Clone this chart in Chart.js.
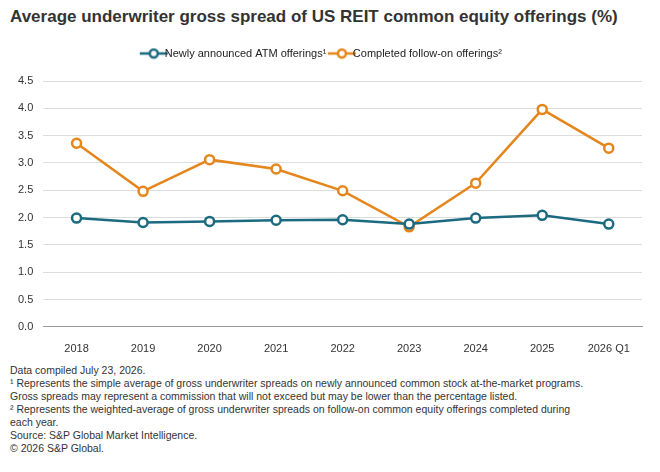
<!DOCTYPE html>
<html><head><meta charset="utf-8">
<script src="https://cdn.jsdelivr.net/npm/chart.js@4/dist/chart.umd.min.js"></script>
<style>
body{margin:0;width:660px;height:472px;background:#fff;font-family:"Liberation Sans",Arial,sans-serif;color:#222;}
#title{position:absolute;left:10px;top:7px;font-size:17px;font-weight:bold;color:#333;}
#wrap{position:absolute;left:8px;top:38px;width:644px;height:326px;}
#notes{position:absolute;left:10px;top:364px;font-size:10.5px;line-height:13px;color:#333;width:640px;}
</style></head><body>
<div id="title">Average underwriter gross spread of US REIT common equity offerings (%)</div>
<div id="wrap"><canvas id="c"></canvas></div>
<div id="notes">Data compiled July 23, 2026.<br>
¹ Represents the simple average of gross underwriter spreads on newly announced common stock at-the-market programs.<br>Gross spreads may represent a commission that will not exceed but may be lower than the percentage listed.<br>
² Represents the weighted-average of gross underwriter spreads on follow-on common equity offerings completed during<br>each year.<br>
Source: S&amp;P Global Market Intelligence.<br>
© 2026 S&amp;P Global.</div>
<script>
const categories=["2018","2019","2020","2021","2022","2023","2024","2025","2026 Q1"];
const atmValues=[1.99,1.91,1.93,1.95,1.96,1.88,1.99,2.04,1.88];
const followOnValues=[3.36,2.48,3.06,2.89,2.49,1.83,2.63,3.98,3.27];
const yTicks=[0,0.5,1,1.5,2,2.5,3,3.5,4,4.5];
const font={family:"Liberation Sans",size:11};
function marker(col){const c=document.createElement('canvas');c.width=30;c.height=12;const g=c.getContext('2d');
g.strokeStyle=col;g.lineWidth=2.5;g.beginPath();g.moveTo(1,6);g.lineTo(29,6);g.stroke();
g.fillStyle='#fff';g.beginPath();g.arc(15,6,4,0,Math.PI*2);g.fill();g.stroke();return c;}
const padLegend={id:'padLegend',beforeInit(ch){const f=ch.legend.fit;ch.legend.fit=function(){f.bind(ch.legend)();this.height+=12;};}};
new Chart(document.getElementById('c'),{type:'line',plugins:[padLegend],
data:{labels:categories,datasets:[
{label:'Newly announced ATM offerings¹',data:atmValues,borderColor:'#1c6a80',backgroundColor:'#fff',borderWidth:2.5,pointRadius:4.5,pointBorderWidth:2.5,pointBackgroundColor:'#fff'},
{label:'Completed follow-on offerings²',data:followOnValues,borderColor:'#e5861c',backgroundColor:'#fff',borderWidth:2.5,pointRadius:4.5,pointBorderWidth:2.5,pointBackgroundColor:'#fff'}]},
options:{responsive:true,maintainAspectRatio:false,animation:false,
layout:{padding:{right:10}},
plugins:{legend:{labels:{usePointStyle:true,generateLabels:ch=>ch.data.datasets.map((d,i)=>({text:d.label,pointStyle:marker(d.borderColor),datasetIndex:i,fontColor:'#222',lineWidth:0,strokeStyle:'transparent',fillStyle:'transparent'})),font:font,color:'#222'}},tooltip:{enabled:false}},
scales:{x:{offset:true,grid:{display:false},border:{color:'#999'},ticks:{font:font,color:'#333',padding:8}},
y:{min:0,max:4.5,afterBuildTicks:a=>{a.ticks=yTicks.map(v=>({value:v}));},
ticks:{font:font,color:'#333',callback:v=>v.toFixed(1),padding:10},grid:{color:'#ddd',drawTicks:false},border:{display:false}}}}});
</script></body></html>
